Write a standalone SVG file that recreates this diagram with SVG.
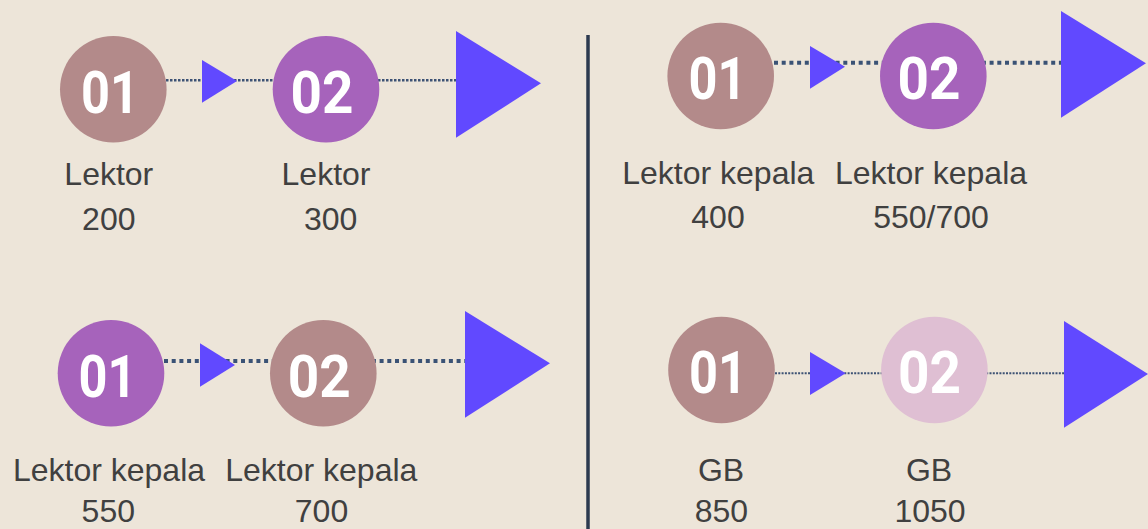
<svg xmlns="http://www.w3.org/2000/svg" width="1148" height="529" viewBox="0 0 1148 529">
<style>
.bg{fill:#ede5d9}
.rose{fill:#b38a8a}
.purple{fill:#a663bb}
.pink{fill:#dfbfd3}
.tri{fill:#6149ff}
.num{font-family:Roboto,"Liberation Sans",sans-serif;font-weight:700;font-size:59px;fill:#ffffff;text-anchor:middle}
.lbl{font-family:"Liberation Sans",Arial,sans-serif;font-size:32px;fill:#404040;text-anchor:middle}
.fine{stroke:#3d5274;stroke-width:2.5;stroke-dasharray:2.5 1.5;fill:none}
.finer{stroke:#3d5274;stroke-width:2;stroke-dasharray:2 1.3;fill:none}
.bold{stroke:#3a5275;stroke-width:4;stroke-dasharray:4 3.7;fill:none}
.div{stroke:#2c3a4f;stroke-width:3.5}
</style>
<rect class="bg" x="0" y="0" width="1148" height="529"/>
<line class="div" x1="588" y1="35" x2="588" y2="529"/>
<g id="connectors">
<line class="fine" x1="166" y1="80.3" x2="456" y2="80.3"/>
<polygon class="tri" points="202,60 237,81 202,102.7"/>
<polygon class="tri" points="456,31 541,83.3 456,137.7"/>
<line class="bold" x1="774" y1="62.7" x2="1061" y2="62.7"/>
<polygon class="tri" points="810,46 845,66.7 810,88.7"/>
<polygon class="tri" points="1061,11 1146,63.3 1061,117.7"/>
<line class="bold" x1="164" y1="361" x2="465" y2="361"/>
<polygon class="tri" points="200,343.3 235,365 200,386.7"/>
<polygon class="tri" points="465,311 550,363.3 465,417.7"/>
<line class="finer" x1="775" y1="373.3" x2="1064" y2="373.3"/>
<polygon class="tri" points="810,352 845.7,373.3 810,395"/>
<polygon class="tri" points="1064,321 1148,374 1064,427.7"/>
</g>
<g id="tl-01">
<circle class="rose" cx="113.3" cy="89.3" r="53.3"/>
<text class="num" x="110" y="112.7" textLength="58" lengthAdjust="spacingAndGlyphs">01</text>
<text class="lbl" x="108.8" y="185">Lektor</text>
<text class="lbl" x="108.8" y="230">200</text>
</g>
<g id="tl-02">
<circle class="purple" cx="326" cy="89.3" r="53.3"/>
<text class="num" x="322" y="112.7" textLength="63" lengthAdjust="spacingAndGlyphs">02</text>
<text class="lbl" x="326" y="185">Lektor</text>
<text class="lbl" x="330.7" y="230">300</text>
</g>
<g id="tr-01">
<circle class="rose" cx="720.7" cy="76" r="53.3"/>
<text class="num" x="717.5" y="99" textLength="58" lengthAdjust="spacingAndGlyphs">01</text>
<text class="lbl" x="718.3" y="184">Lektor kepala</text>
<text class="lbl" x="718" y="228.3">400</text>
</g>
<g id="tr-02">
<circle class="purple" cx="933.3" cy="76" r="53.3"/>
<text class="num" x="929" y="99" textLength="63" lengthAdjust="spacingAndGlyphs">02</text>
<text class="lbl" x="931" y="184">Lektor kepala</text>
<text class="lbl" x="931" y="228.3">550/700</text>
</g>
<g id="bl-01">
<circle class="purple" cx="111" cy="373.3" r="53.3"/>
<text class="num" x="107.5" y="396.7" textLength="58" lengthAdjust="spacingAndGlyphs">01</text>
<text class="lbl" x="109" y="481">Lektor kepala</text>
<text class="lbl" x="108.3" y="522">550</text>
</g>
<g id="bl-02">
<circle class="rose" cx="323.3" cy="373.3" r="53.3"/>
<text class="num" x="319.2" y="396.7" textLength="63" lengthAdjust="spacingAndGlyphs">02</text>
<text class="lbl" x="321.3" y="481">Lektor kepala</text>
<text class="lbl" x="321.5" y="522">700</text>
</g>
<g id="br-01">
<circle class="rose" cx="721.5" cy="370" r="53.3"/>
<text class="num" x="718" y="392.7" textLength="58" lengthAdjust="spacingAndGlyphs">01</text>
<text class="lbl" x="721" y="481">GB</text>
<text class="lbl" x="721.4" y="522">850</text>
</g>
<g id="br-02">
<circle class="pink" cx="934.4" cy="370" r="53.3"/>
<text class="num" x="929.4" y="392.7" textLength="63" lengthAdjust="spacingAndGlyphs">02</text>
<text class="lbl" x="929" y="481">GB</text>
<text class="lbl" x="930" y="522">1050</text>
</g>
</svg>
